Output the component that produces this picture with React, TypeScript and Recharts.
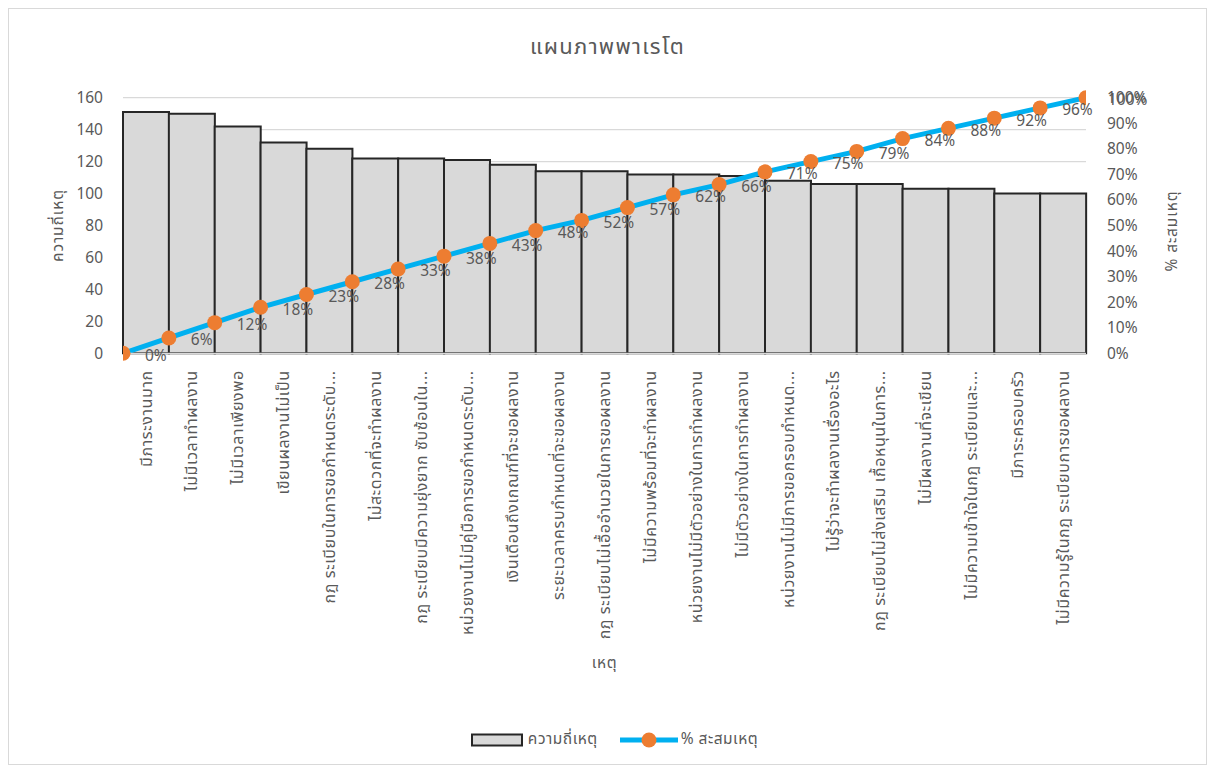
import React from "react";
import {
  ComposedChart,
  Bar,
  Line,
  XAxis,
  YAxis,
  CartesianGrid,
  Legend,
  LabelList,
} from "recharts";

const FONT = "'Noto Sans Thai', 'Leelawadee UI', Tahoma, 'Noto Sans', sans-serif";
const TEXT = "#595959";

// causes, already sorted from most to least frequent
const causes = [
  "มีภาระงานมาก",
  "ไม่มีเวลาทำผลงาน",
  "ไม่มีเวลาเพียงพอ",
  "เขียนผลงานไม่เป็น",
  "กฎ ระเบียบในการขอกำหนดระดับ...",
  "ไม่สะดวกที่จะทำผลงาน",
  "กฎ ระเบียบมีความยุ่งยาก ซับซ้อนใน...",
  "หน่วยงานไม่มีคู่มือการขอกำหนดระดับ...",
  "เงินเดือนถึงเกณฑ์ที่จะขอผลงาน",
  "ระยะเวลาครบกำหนดที่จะขอผลงาน",
  "กฎ ระเบียบไม่เอื้ออำนวยในการขอผลงาน",
  "ไม่มีความพร้อมที่จะทำผลงาน",
  "หน่วยงานไม่มีตัวอย่างในการทำผลงาน",
  "ไม่มีตัวอย่างในการทำผลงาน",
  "หน่วยงานไม่มีการขอกรอบกำหนด...",
  "ไม่รู้ว่าจะทำผลงานเรื่องอะไร",
  "กฎ ระเบียบไม่ส่งเสริม เกื้อหนุนในการ...",
  "ไม่มีผลงานที่จะเขียน",
  "ไม่มีความเข้าใจในกฎ ระเบียบและ...",
  "มีภาระครอบครัว",
  "ไม่มีความรู้ในกฎ ระเบียบการขอผลงาน",
];

const counts = [
  151, 150, 142, 132, 128, 122, 122, 121, 118, 114, 114, 112, 112, 111, 108,
  106, 106, 103, 103, 100, 100,
];

// cumulative share, one point per bar edge (0 .. 21)
const cumPct = [
  0, 6, 12, 18, 23, 28, 33, 38, 43, 48, 52, 57, 62, 66, 71, 75, 79, 84, 88, 92,
  96, 100,
];

const countTicks = [0, 20, 40, 60, 80, 100, 120, 140, 160];
const pctTicks = [0, 10, 20, 30, 40, 50, 60, 70, 80, 90, 100];

const barData = causes.map((cause, i) => ({ cause, count: counts[i] }));
const lineData = cumPct.map((pct, i) => ({ pos: i, pct }));

function CauseTick({ x, y, payload }: any) {
  const ty = y + 17;
  return (
    <text
      x={x}
      y={ty}
      dy="0.35em"
      textAnchor="end"
      transform={`rotate(-90, ${x}, ${ty})`}
      fill={TEXT}
      fontSize={16}
      letterSpacing={0.6}
      fontFamily={FONT}
    >
      {payload.value}
    </text>
  );
}

function PctLabel({ x, y, value }: any) {
  return (
    <text
      x={x + 22}
      y={y + 3}
      dominantBaseline="central"
      fill={TEXT}
      fontSize={15.5}
      fontFamily={FONT}
    >
      {`${value}%`}
    </text>
  );
}

function XTitle({ viewBox }: any) {
  const { x, y, width } = viewBox;
  return (
    <text
      x={x + width / 2}
      y={y + 310}
      textAnchor="middle"
      dominantBaseline="central"
      fill={TEXT}
      fontSize={15.5}
      letterSpacing={0.6}
      fontFamily={FONT}
    >
      เหตุ
    </text>
  );
}

function SideTitle({ cx, cy, text }: any) {
  return (
    <text
      x={cx}
      y={cy}
      textAnchor="middle"
      dominantBaseline="central"
      transform={`rotate(-90, ${cx}, ${cy})`}
      fill={TEXT}
      fontSize={15.5}
      letterSpacing={0.9}
      fontFamily={FONT}
    >
      {text}
    </text>
  );
}

function LegendBox() {
  return (
    <div
      style={{
        display: "flex",
        justifyContent: "center",
        alignItems: "center",
        paddingLeft: 14,
        fontFamily: FONT,
        fontSize: 15.5,
        letterSpacing: 0.5,
        color: TEXT,
      }}
    >
      <svg width={52} height={14}>
        <rect x={1} y={1.5} width={50} height={11} fill="#d9d9d9" stroke="#262626" strokeWidth={2} />
      </svg>
      <span style={{ marginLeft: 5 }}>ความถี่เหตุ</span>
      <svg width={58} height={18} style={{ marginLeft: 22 }}>
        <line x1={0} y1={9} x2={58} y2={9} stroke="#00b0f0" strokeWidth={5} />
        <circle cx={29} cy={9} r={7.5} fill="#ed7d31" />
      </svg>
      <span style={{ marginLeft: 3 }}>% สะสมเหตุ</span>
    </div>
  );
}

export default function App() {
  return (
    <div
      style={{
        position: "relative",
        width: 1197,
        height: 755,
        border: "1px solid #d9d9d9",
        background: "#ffffff",
        fontFamily: FONT,
      }}
    >
      <div
        style={{
          position: "absolute",
          top: 22,
          left: 0,
          width: "100%",
          textAlign: "center",
          fontSize: 22,
          letterSpacing: 1.3,
          color: TEXT,
        }}
      >
        แผนภาพพาเรโต
      </div>
      <ComposedChart
        width={1197}
        height={755}
        data={barData}
        margin={{ top: 88.7, right: 10, bottom: 80.7, left: 30 }}
        barCategoryGap={0}
        barGap={0}
      >
        <CartesianGrid
          xAxisId="cat"
          yAxisId="count"
          vertical={false}
          stroke="#d9d9d9"
          strokeWidth={1.3}
        />
        <XAxis
          xAxisId="cat"
          dataKey="cause"
          interval={0}
          height={330}
          tickLine={false}
          tickSize={0}
          tickMargin={0}
          axisLine={{ stroke: "#d9d9d9", strokeWidth: 1.3 }}
          tick={<CauseTick />}
          label={<XTitle />}
        />
        <XAxis
          xAxisId="pos"
          type="number"
          dataKey="pos"
          domain={[0, 21]}
          allowDataOverflow
          hide
        />
        <YAxis
          yAxisId="count"
          domain={[0, 160]}
          ticks={countTicks}
          width={84}
          axisLine={false}
          tickLine={false}
          tickSize={0}
          tickMargin={20}
          tick={{ fill: TEXT, fontSize: 15.5, fontFamily: FONT }}
          label={<SideTitle cx={49} cy={216.5} text="ความถี่เหตุ" />}
        />
        <YAxis
          yAxisId="pct"
          orientation="right"
          domain={[0, 100]}
          ticks={pctTicks}
          width={110}
          axisLine={false}
          tickLine={false}
          tickSize={0}
          tickMargin={21}
          tickFormatter={(v) => `${v}%`}
          tick={{ fill: TEXT, fontSize: 15.5, fontFamily: FONT }}
          label={<SideTitle cx={1163} cy={222} text="% สะสมเหตุ" />}
        />
        <Bar
          xAxisId="cat"
          yAxisId="count"
          dataKey="count"
          fill="#d9d9d9"
          stroke="#262626"
          strokeWidth={2}
          isAnimationActive={false}
        />
        <Line
          xAxisId="pos"
          yAxisId="pct"
          data={lineData}
          dataKey="pct"
          stroke="#00b0f0"
          strokeWidth={5}
          dot={{ r: 7.5, fill: "#ed7d31", stroke: "none" }}
          activeDot={false}
          isAnimationActive={false}
        >
          <LabelList dataKey="pct" content={<PctLabel />} />
        </Line>
        <Legend
          layout="horizontal"
          verticalAlign="middle"
          align="center"
          wrapperStyle={{ top: 719, left: 0, width: 1197 }}
          content={() => <LegendBox />}
        />
      </ComposedChart>
    </div>
  );
}
